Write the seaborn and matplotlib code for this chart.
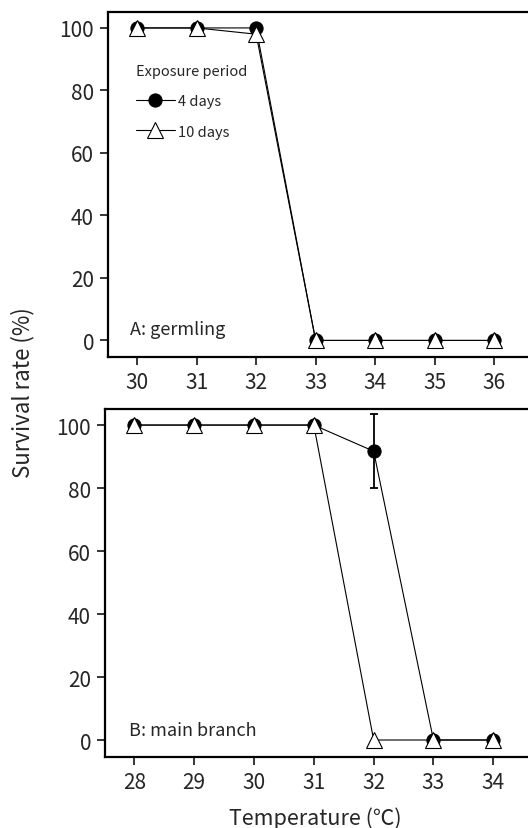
import matplotlib
matplotlib.use("Agg")
import matplotlib.pyplot as plt
import seaborn as sns
import pandas as pd

sns.set_style("white")
FAM = ['Noto Sans CJK JP', 'DejaVu Sans']
plt.rcParams['font.family'] = FAM

# Panel A: germling
temp_a = [30, 31, 32, 33, 34, 35, 36]
a_4days = [100, 100, 100, 0, 0, 0, 0]
a_10days = [100, 100, 98, 0, 0, 0, 0]

# Panel B: main branch
temp_b = [28, 29, 30, 31, 32, 33, 34]
b_4days = [100, 100, 100, 100, 91.7, 0, 0]
b_4days_err = [0, 0, 0, 0, 11.8, 0, 0]
b_10days = [100, 100, 100, 100, 0, 0, 0]

W, H = 528, 829
fig = plt.figure(figsize=(W / 100, H / 100), dpi=100)

def px_axes(left, right, top, bottom):
    return fig.add_axes([left / W, 1 - bottom / H, (right - left) / W, (bottom - top) / H])

axA = px_axes(108, 531, 13, 358)
axB = px_axes(105, 531, 410, 757.7)

def draw(ax, temps, v4, v10, xlim, label, lpos, err=None, legend=False):
    df4 = pd.DataFrame({"t": temps, "v": v4})
    df10 = pd.DataFrame({"t": temps, "v": v10})
    if err is not None:
        ax.errorbar(temps, v4, yerr=err, fmt='none', ecolor='black', elinewidth=1.3,
                    capsize=2.6, capthick=1.3, zorder=2)
    sns.lineplot(data=df4, x="t", y="v", ax=ax, color="black", lw=0.8, marker="o",
                 markersize=9.5, markerfacecolor="black", markeredgecolor="black",
                 label="4 days", zorder=3)
    sns.lineplot(data=df10, x="t", y="v", ax=ax, color="black", lw=0.8, marker="^",
                 markersize=11.5, markerfacecolor="white", markeredgecolor="black",
                 markeredgewidth=0.8, label="10 days", zorder=4)
    ax.set_xlim(*xlim)
    ax.set_ylim(-5.3, 105.1)
    ax.set_xticks(temps)
    ax.set_yticks([0, 20, 40, 60, 80, 100])
    ax.set_xlabel("")
    ax.set_ylabel("")
    ax.tick_params(axis='both', direction='out', length=6, width=1.3, labelsize=15,
                   left=True, bottom=True, pad=4)
    for s in ax.spines.values():
        s.set_linewidth(1.6)
        s.set_color("black")
    ax.text(lpos[0], lpos[1], label, transform=ax.transAxes, fontsize=13,
            ha='left', va='baseline')
    if legend:
        leg = ax.legend(title="Exposure period", frameon=False, loc='upper left',
                        bbox_to_anchor=(0.045, 0.875), fontsize=10.5, title_fontsize=10.5,
                        handlelength=2.7, handletextpad=0.2, labelspacing=1.12,
                        borderpad=0.1)
        leg._legend_box.align = "left"
    else:
        ax.get_legend().remove()

draw(axA, temp_a, a_4days, a_10days, (29.51, 36.62), "A: germling", (0.052, 0.066), legend=True)
draw(axB, temp_b, b_4days, b_10days, (27.51, 34.63), "B: main branch", (0.056, 0.062),
     err=b_4days_err)

fig.text(23 / W, 1 - 393 / H, "Survival rate (%)", rotation=90, ha='center', va='center',
         fontsize=16)
fig.text(315 / W, 1 - 819 / H, "Temperature (℃)", ha='center', va='center',
         fontsize=15.5)

fig.savefig("out.png", dpi=100)
